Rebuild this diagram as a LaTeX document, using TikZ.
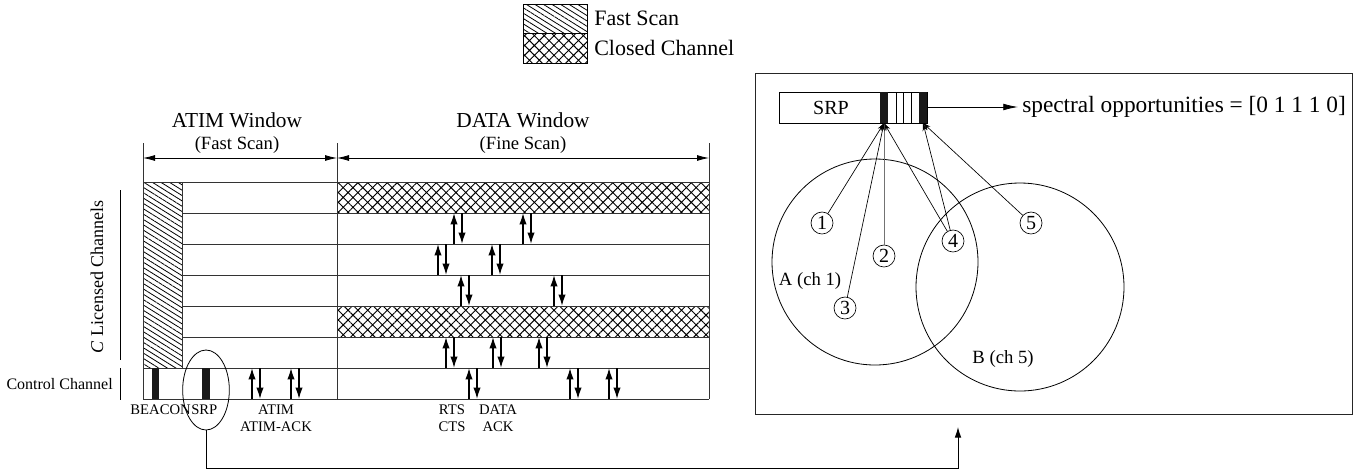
\documentclass[tikz,border=0pt]{standalone}
\usepackage{fontspec}
\setmainfont{Liberation Serif}
\usetikzlibrary{arrows.meta,patterns.meta,shapes.geometric,calc}
\begin{document}
\begin{tikzpicture}[x=0.75pt,y=-0.75pt,
  gridline/.style={line width=0.6pt,draw=black!80},
  dimarrow/.style={line width=0.6pt,{Latex[length=9pt,width=4.5pt]}-{Latex[length=9pt,width=4.5pt]}},
  uparr/.style={line width=1.1pt,-{Latex[length=8.5pt,width=5.5pt]}},
  fastscan/.style={pattern={Lines[angle=-32,distance=3.4pt,line width=0.6pt]}},
  closed/.style={pattern={Hatch[angle=45,distance=5.2pt,line width=0.7pt]}},
  bar/.style={fill=black!90,draw=none},
  lbl/.style={inner sep=0pt,font=\fontsize{11}{12}\selectfont},
  num/.style={circle,draw,line width=0.5pt,inner sep=0pt,minimum size=16.5pt,font=\fontsize{15}{15}\selectfont},
  srparr/.style={line width=0.5pt,-{Stealth[length=6pt,width=3.5pt]}},
]
\useasboundingbox (0,0) rectangle (1360,472);

% ---------- legend ----------
\fill[white] (523,4) rectangle (587,63);
\fill[fastscan] (523,4) rectangle (587,33);
\fill[closed] (523,33) rectangle (587,63);
\draw[line width=0.6pt] (523,4) rectangle (587,63) (523,33) -- (587,33);
\node[anchor=west,inner sep=0pt,font=\fontsize{16.5}{17}\selectfont] (lgfast) at (594,18) {Fast Scan};
\node[anchor=west,inner sep=0pt,font=\fontsize{16.5}{17}\selectfont] (lgclosed) at (594,48) {Closed Channel};

% ---------- window headers ----------
\node[inner sep=0pt,font=\fontsize{16}{17}\selectfont] (atimw) at (237,120) {ATIM Window};
\node[inner sep=0pt,font=\fontsize{14}{15}\selectfont] (atimfs) at (237,145) {(Fast Scan)};
\node[inner sep=0pt,font=\fontsize{16}{17}\selectfont] (dataw) at (523,120) {DATA Window};
\node[inner sep=0pt,font=\fontsize{14}{15}\selectfont] (datafs) at (523,145) {(Fine Scan)};
\coordinate (t0) at (143,158);
\coordinate (t1) at (337,158);
\coordinate (t2) at (709,158);
\draw[dimarrow] (t0) -- (t1);
\draw[dimarrow] (t1) -- (t2);

% ---------- grid ----------
\foreach \y in {182,213,244,275,306,337,368,399}
  \draw[gridline] (143,\y) -- (709,\y);
\draw[gridline] (143,143) -- (143,399);
\draw[gridline] (337,143) -- (337,399);
\draw[gridline] (709,143) -- (709,399);

% fast scan column
\fill[white] (143,182) rectangle (182,368);
\fill[fastscan] (143,182) rectangle (182,368);
\draw[gridline] (143,182) rectangle (182,368);

% closed channels
\fill[white] (337,182) rectangle (709,213);
\fill[closed] (337,182) rectangle (709,213);
\draw[gridline] (337,182) rectangle (709,213);
\fill[white] (337,306) rectangle (709,337);
\fill[closed] (337,306) rectangle (709,337);
\draw[gridline] (337,306) rectangle (709,337);

% up/down arrow pairs: x, top, bottom
\foreach \x/\t/\b in {454/213/244, 523/213/244,
                      438/244/275, 492/244/275,
                      461/275/306, 554/275/306,
                      446/337/368, 493/337/368, 539/337/368,
                      252/368/399, 291/368/399, 469/368/399, 570/368/399, 609/368/399}{
  \draw[uparr] (\x,\b) -- (\x,\t);
  \draw[uparr] (\x+8,\t) -- (\x+8,\b);
}

% beacon and SRP bars
\fill[bar] (152,368) rectangle (159,399);
\fill[bar] (202,368) rectangle (210,399);

% left labels
\node[rotate=90,inner sep=0pt,font=\fontsize{13.5}{14}\selectfont] (lic) at (97,277) {\textit{C} Licensed Channels};
\draw[line width=0.6pt] (120,190) -- (120,360);
\draw[line width=0.6pt] (120,368) -- (120,400);
\node[anchor=east,inner sep=0pt,font=\fontsize{12}{13}\selectfont] (ctrl) at (113,384) {Control Channel};

% bottom labels
\node[lbl,anchor=east] (beacon) at (191,410) {BEACON};
\node[lbl,anchor=west] (srplbl) at (191,410) {SRP};
\node[lbl] (atim) at (276,410) {ATIM};
\node[lbl] (atimack) at (276,427) {ATIM-ACK};
\node[lbl] (rts) at (452,410) {RTS};
\node[lbl] (cts) at (452,427) {CTS};
\node[lbl] (data) at (498,410) {DATA};
\node[lbl] (ack) at (498,427) {ACK};

% ellipse around SRP
\node[ellipse,draw,line width=0.6pt,minimum width=35pt,minimum height=60pt,inner sep=0pt] (srpell) at (206,390) {};

% ---------- right panel ----------
\draw[line width=0.7pt,draw=black!85] (755,73) rectangle (1352,414);
\coordinate (panelin) at (958,427);

% connector
\draw[line width=0.7pt,-{Latex[length=8pt,width=5pt]}] (srpell.south) |- (958,468) -- (panelin);

% SRP packet
\draw[line width=0.6pt] (779,92) rectangle (927,123);
\node[inner sep=0pt,font=\fontsize{15}{16}\selectfont] (srptxt) at (831,108) {SRP};
\fill[bar] (880,92) rectangle (888,123);
\fill[bar] (919,92) rectangle (927,123);
\foreach \x in {896,903,911}
  \draw[line width=0.5pt] (\x,92) -- (\x,123);
\coordinate (s1) at (884,123);
\coordinate (s6) at (923,123);
\coordinate (srpright) at (927,107);

\node[anchor=west,inner sep=0pt,font=\fontsize{17.5}{18}\selectfont] (spec) at (1022,107) {spectral opportunities = [0 1 1 1 0]};
\draw[line width=0.6pt,-{Latex[length=11pt,width=5pt]}] (srpright) -- ([xshift=-3pt]spec.west);

% coverage circles
\draw[line width=0.6pt] (875,262) circle[radius=103];
\draw[line width=0.6pt] (1020,287) circle[radius=104];
\node[inner sep=0pt,font=\fontsize{14}{15}\selectfont] (lA) at (810,281) {A (ch 1)};
\node[inner sep=0pt,font=\fontsize{14}{15}\selectfont] (lB) at (1003,359) {B (ch 5)};

% nodes
\node[num] (n1) at (822,223) {1};
\node[num] (n2) at (884,256) {2};
\node[num] (n3) at (845,308) {3};
\node[num] (n4) at (953,241) {4};
\node[num] (n5) at (1031,223) {5};

\draw[srparr] (n1) -- (s1);
\draw[srparr,draw=black!55] (n2) -- (s1);
\draw[srparr] (n3) -- (s1);
\draw[srparr] (n4) -- (s1);
\draw[srparr] (n4) -- (s6);
\draw[srparr] (n5) -- (s6);
\end{tikzpicture}
\end{document}
